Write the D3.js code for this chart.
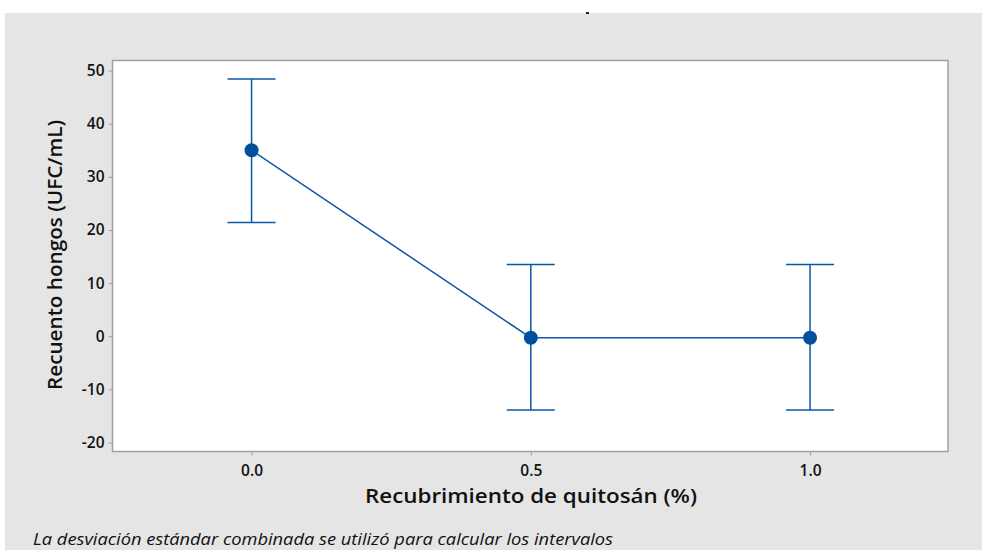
<!DOCTYPE html>
<html><head><meta charset="utf-8">
<script src="https://cdn.jsdelivr.net/npm/d3@7"></script>
<style>body{margin:0;background:#fff}svg{display:block}</style>
</head><body>
<svg id="c" width="982" height="550"></svg>
<script>
const categories = [0.0, 0.5, 1.0];
const means = [35.0, -0.3, -0.3];
const lower = [21.4, -13.9, -13.9];
const upper = [48.4, 13.5, 13.5];
const yTicks = [50, 40, 30, 20, 10, 0, -10, -20];
const xTicks = [0.0, 0.5, 1.0];

const svg = d3.select("#c");
const font = "'Open Sans', 'Noto Sans', sans-serif";
svg.append("rect").attr("x",5).attr("y",13).attr("width",977).attr("height",537).attr("fill","#e5e5e5");
svg.append("rect").attr("x",586).attr("y",12).attr("width",3).attr("height",2).attr("fill","#222");

const L=112.5, T=60.5, R=948, B=451.5;
const x = d3.scaleLinear().domain([-0.249, 1.247]).range([L, R]);
const y = d3.scaleLinear().domain([-21.7, 51.9]).range([B, T]);

svg.append("rect").attr("x",L).attr("y",T).attr("width",R-L).attr("height",B-T)
  .attr("fill","#fff").attr("stroke","#a0a0a0").attr("stroke-width",1.5);

const yAxis = svg.append("g").attr("transform",`translate(${L},0)`)
  .call(d3.axisLeft(y).tickValues(yTicks).tickFormat(d=>String(d)).tickSize(4).tickPadding(4));
const xAxis = svg.append("g").attr("transform",`translate(0,${B})`)
  .call(d3.axisBottom(x).tickValues(xTicks).tickFormat(d3.format(".1f")).tickSize(4).tickPadding(9));
[yAxis,xAxis].forEach(a=>{
  a.select(".domain").remove();
  a.selectAll(".tick line").attr("stroke","#a0a0a0");
  a.selectAll(".tick text").attr("fill","#111").style("font-family",font).style("font-size","15.5px").style("font-weight","600");
});

const data = categories.map((c,i)=>({c, m:means[i], lo:lower[i], hi:upper[i]}));
const col = "#0a57a8";
const g = svg.append("g");
data.forEach(d=>{
  g.append("line").attr("x1",x(d.c)).attr("x2",x(d.c)).attr("y1",y(d.lo)).attr("y2",y(d.hi)).attr("stroke",col).attr("stroke-width",1.5);
  [d.lo,d.hi].forEach(v=>g.append("line").attr("x1",x(d.c)-24).attr("x2",x(d.c)+24).attr("y1",y(v)).attr("y2",y(v)).attr("stroke",col).attr("stroke-width",1.5));
});
g.append("path").datum(data).attr("fill","none").attr("stroke",col).attr("stroke-width",1.5)
  .attr("d", d3.line().x(d=>x(d.c)).y(d=>y(d.m)));
g.selectAll("circle").data(data).join("circle").attr("cx",d=>x(d.c)).attr("cy",d=>y(d.m)).attr("r",7).attr("fill","#0050a0");

svg.append("text").attr("x",531).attr("y",503).attr("text-anchor","middle")
  .style("font-family",font).style("font-size","20px").style("font-weight","600").attr("fill","#111")
  .attr("textLength",332).attr("lengthAdjust","spacingAndGlyphs")
  .text("Recubrimiento de quitosán (%)");
svg.append("text").attr("transform",`translate(62,255) rotate(-90)`).attr("text-anchor","middle")
  .style("font-family",font).style("font-size","20px").style("font-weight","600").attr("fill","#111")
  .attr("textLength",270).attr("lengthAdjust","spacingAndGlyphs")
  .text("Recuento hongos (UFC/mL)");
svg.append("text").attr("x",33).attr("y",545)
  .style("font-family",font).style("font-size","15.5px").style("font-style","italic").attr("fill","#111")
  .attr("textLength",580).attr("lengthAdjust","spacingAndGlyphs")
  .text("La desviación estándar combinada se utilizó para calcular los intervalos");
</script>
</body></html>
